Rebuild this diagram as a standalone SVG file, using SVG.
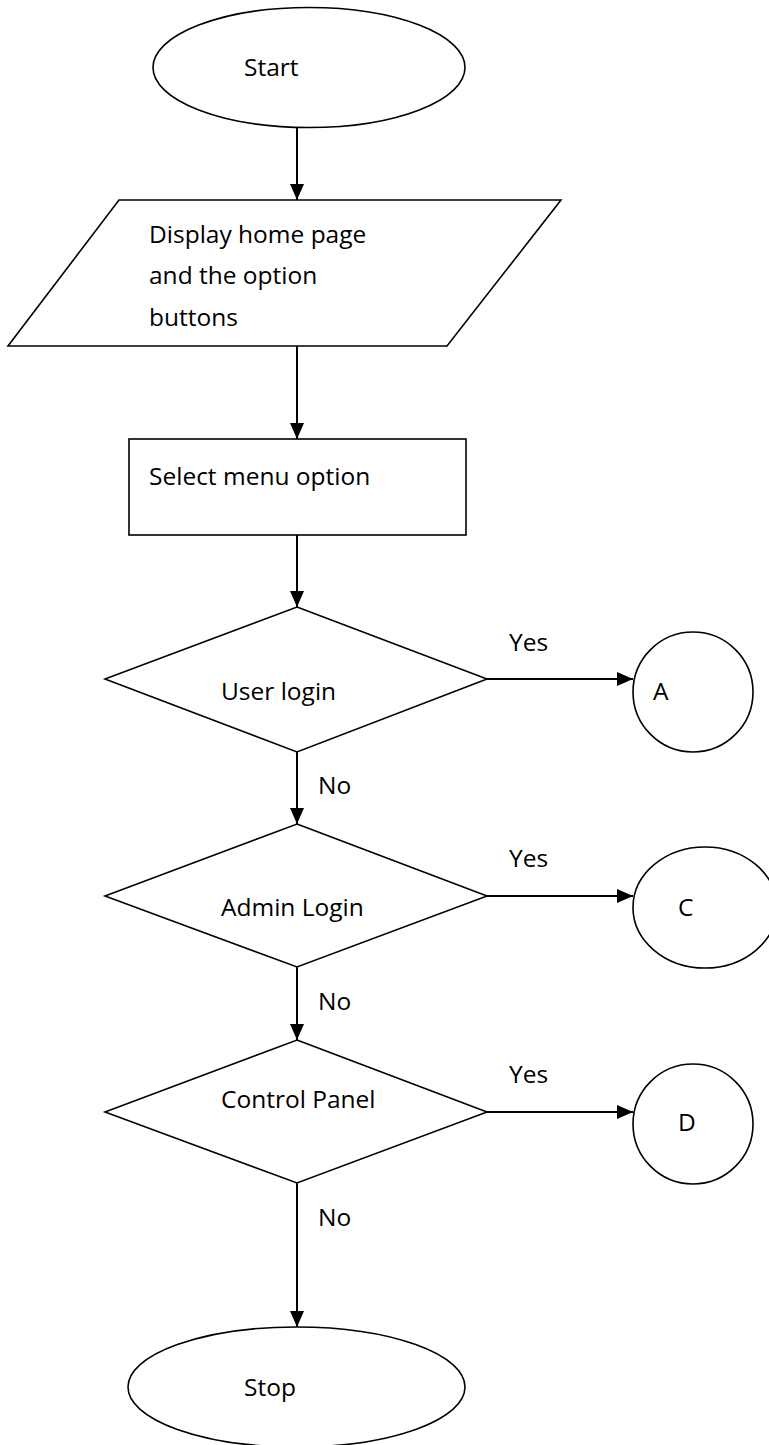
<svg xmlns="http://www.w3.org/2000/svg" width="769" height="1445" viewBox="0 0 769 1445">
<style>
.shape{fill:#fff;stroke:#000;stroke-width:1.6}
.conn{fill:none;stroke:#000;stroke-width:2}
text{font-family:"Open Sans","Liberation Sans",sans-serif;font-size:24.5px;fill:#000}
</style>
<defs>
<marker id="arr" markerUnits="userSpaceOnUse" markerWidth="16" markerHeight="14" refX="16" refY="7" orient="auto">
<path d="M0,0 L16,7 L0,14 z" fill="#000"/>
</marker>
</defs>
<rect width="769" height="1445" fill="#fff"/>
<g id="start"><ellipse class="shape" cx="309" cy="67.5" rx="156" ry="60"/><text x="244" y="76">Start</text></g>
<g id="display"><polygon class="shape" points="119,200 561,200 447,346 8,346"/>
<text x="149" y="243">Display home page</text>
<text x="149" y="284">and the option</text>
<text x="149" y="326">buttons</text></g>
<g id="select"><rect class="shape" x="129" y="439" width="337" height="96"/><text x="149" y="485">Select menu option</text></g>
<g id="userlogin"><polygon class="shape" points="297,607 487,679 297,752 105,679"/><text x="221" y="700">User login</text></g>
<g id="adminlogin"><polygon class="shape" points="297,824 487,896 297,967 105,896"/><text x="221" y="916">Admin Login</text></g>
<g id="controlpanel"><polygon class="shape" points="297,1040 487,1112 297,1183 105,1112"/><text x="221" y="1108">Control Panel</text></g>
<g id="stop"><ellipse class="shape" cx="296.5" cy="1387" rx="168.5" ry="60"/><text x="244" y="1396">Stop</text></g>
<g id="connA"><ellipse class="shape" cx="693" cy="692" rx="60" ry="60"/><text x="653" y="700">A</text></g>
<g id="connC"><ellipse class="shape" cx="705" cy="907.5" rx="72" ry="60.5"/><text x="678" y="916">C</text></g>
<g id="connD"><ellipse class="shape" cx="693" cy="1124" rx="60" ry="60"/><text x="678" y="1131">D</text></g>
<g id="connectors">
<line class="conn" x1="297" y1="128" x2="297" y2="200" marker-end="url(#arr)"/>
<line class="conn" x1="297" y1="346" x2="297" y2="439" marker-end="url(#arr)"/>
<line class="conn" x1="297" y1="535" x2="297" y2="607" marker-end="url(#arr)"/>
<line class="conn" x1="297" y1="752" x2="297" y2="824" marker-end="url(#arr)"/>
<line class="conn" x1="297" y1="967" x2="297" y2="1040" marker-end="url(#arr)"/>
<line class="conn" x1="297" y1="1183" x2="297" y2="1327" marker-end="url(#arr)"/>
<line class="conn" x1="487" y1="679" x2="633" y2="679" marker-end="url(#arr)"/>
<line class="conn" x1="487" y1="896" x2="633" y2="896" marker-end="url(#arr)"/>
<line class="conn" x1="487" y1="1112" x2="633" y2="1112" marker-end="url(#arr)"/>
<text x="509" y="651">Yes</text>
<text x="509" y="867">Yes</text>
<text x="509" y="1083">Yes</text>
<text x="318" y="794">No</text>
<text x="318" y="1010">No</text>
<text x="318" y="1226">No</text>
</g>
</svg>
